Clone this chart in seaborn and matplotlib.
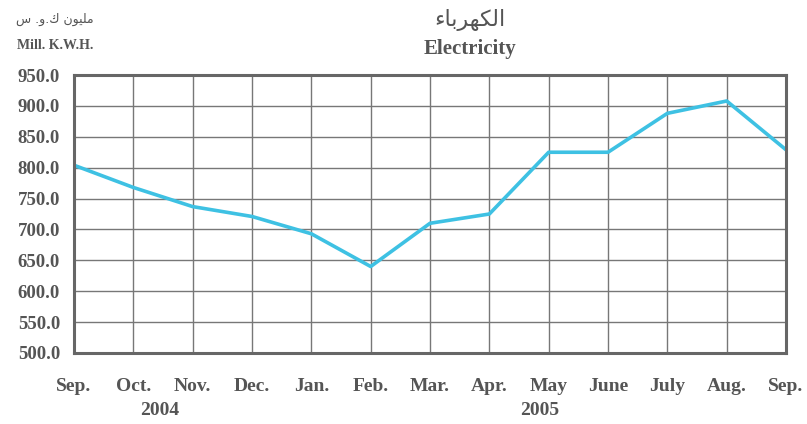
import pandas as pd
import seaborn as sns
import matplotlib.pyplot as plt

# data
months = ["Sep.", "Oct.", "Nov.", "Dec.", "Jan.", "Feb.", "Mar.",
          "Apr.", "May", "June", "July", "Aug.", "Sep."]
electricity = [804, 768, 737, 721, 693, 640, 710, 725, 825, 825, 888, 908, 829]
y_ticks = [500, 550, 600, 650, 700, 750, 800, 850, 900, 950]
years = ["2004", "2005"]

# Arabic written in visual order with presentation forms (matplotlib has no shaping)
title_ar = "\uFE80\uFE8E\uFE91\uFEAE\uFEEC\uFEDC\uFEDF\uFE8D"
unit_ar = "\uFEB1 .\uFEED.\uFED9 \uFEE5\uFEEE\uFEF4\uFEE0\uFEE3"

df = pd.DataFrame({"pos": range(len(months)), "value": electricity})

sns.set_style("white")
plt.rcParams["font.family"] = ["Liberation Serif", "DejaVu Sans"]
plt.rcParams["font.weight"] = "bold"
text_color = "#555555"

fig = plt.figure(figsize=(8.07, 4.24), dpi=100)
ax = fig.add_axes([0.0917, 0.1675, 0.8823, 0.6555])

sns.lineplot(data=df, x="pos", y="value", ax=ax, color="#3EC1E3", linewidth=2.6)

ax.set_xlim(0, len(months) - 1)
ax.set_ylim(500, 950)
ax.set_xticks(range(len(months)))
ax.set_xticklabels(months, fontsize=14, color=text_color)
ax.set_yticks(y_ticks)
ax.set_yticklabels([f"{v:.1f}" for v in y_ticks], fontsize=13.5, color=text_color)
ax.tick_params(axis="x", length=0, pad=18)
ax.tick_params(axis="y", length=0, pad=10)
ax.set_xlabel("")
ax.set_ylabel("")

ax.grid(True, color="#777777", linewidth=1.0)
for s in ax.spines.values():
    s.set_color("#666666")
    s.set_linewidth(2.2)

# year labels under the month labels
ax.text(1.45, -0.175, years[0], transform=ax.get_xaxis_transform(),
        ha="center", va="top", fontsize=14, color=text_color)
ax.text(7.85, -0.175, years[1], transform=ax.get_xaxis_transform(),
        ha="center", va="top", fontsize=14, color=text_color)

fig.text(0.582, 0.952, title_ar, ha="center", va="center", fontsize=16,
         color=text_color, family=["DejaVu Sans"], fontweight="normal")
fig.text(0.582, 0.885, "Electricity", ha="center", va="center", fontsize=15,
         color=text_color)
fig.text(0.068, 0.955, unit_ar, ha="center", va="center", fontsize=9,
         color=text_color, family=["DejaVu Sans"], fontweight="normal")
fig.text(0.068, 0.893, "Mill. K.W.H.", ha="center", va="center", fontsize=10,
         color=text_color)

fig.savefig("out.png", dpi=100)
